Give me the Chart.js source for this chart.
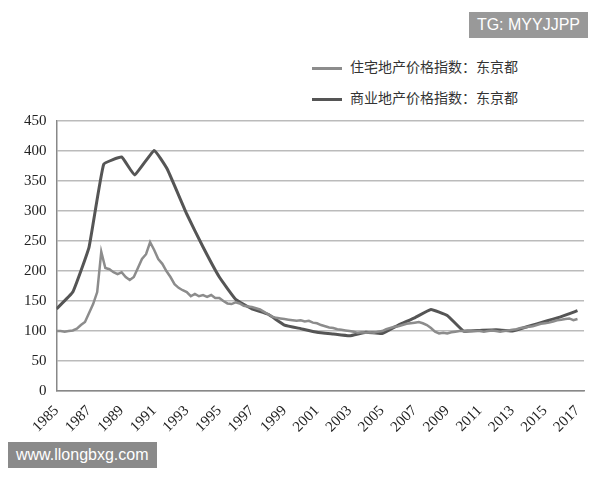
<!DOCTYPE html>
<html>
<head>
<meta charset="utf-8">
<script src="https://cdn.jsdelivr.net/npm/chart.js@4/dist/chart.umd.min.js"></script>
<style>
  body { margin: 0; background: #fff; }
  #wrap { position: relative; width: 600px; height: 480px; }
  #chartCanvas { position: absolute; left: 0; top: 102px; }
  .legend { position: absolute; left: 312px; font: 14px "Noto Sans CJK SC"; color: #333; }
  .legend span { display: inline-block; width: 30px; height: 3px; vertical-align: middle; margin-right: 8px; }
  .tag { position: absolute; background: #999; color: #fff; font: 16px "Liberation Sans"; padding: 4px 8px; }
</style>
</head>
<body>
<div id="wrap">
  <div class="tag" style="right:12px; top:12px;">TG: MYYJJPP</div>
  <div class="legend" style="top:56px;"><span style="background:#8c8c8c"></span>住宅地产价格指数：东京都</div>
  <div class="legend" style="top:87px;"><span style="background:#555"></span>商业地产价格指数：东京都</div>
  <canvas id="chartCanvas" width="600" height="337"></canvas>
  <div class="tag" style="left:8px; top:442px; background:#8a8a8a;">www.llongbxg.com</div>
</div>
<script>
const commercialYears = [1985, 1986, 1987, 1987.9, 1989, 1989.8, 1991, 1991.8, 1993, 1994, 1995, 1996, 1997, 1998, 1999, 2000, 2001, 2002, 2003, 2004, 2005, 2006, 2007, 2008, 2009, 2010, 2011, 2012, 2013, 2014, 2015, 2016, 2017];
const commercialValues = [137, 165, 240, 378, 390, 360, 401, 370, 295, 240, 190, 153, 137, 128, 110, 104, 98, 95, 92, 98, 96, 110, 122, 136, 126, 100, 101, 102, 100, 108, 116, 124, 134];

// quarterly, from 1985 Q1
const residentialStart = 1985;
const residentialValues = [
  100, 100, 99, 100,
  101, 104, 110, 115,
  130, 145, 165, 232,
  205, 203, 198, 195,
  198, 190, 185, 190,
  205, 220, 228, 248,
  235, 220, 212, 200,
  190, 178, 172, 168,
  165, 158, 162, 158,
  160, 157, 160, 155,
  155, 150, 146, 145,
  148, 146, 142, 141,
  140, 138, 136, 132,
  128, 124, 122, 121,
  120, 119, 118, 117,
  118, 116, 117, 114,
  113, 110, 108, 106,
  105, 103, 102, 101,
  100, 99, 97, 98,
  97, 98, 97, 99,
  100, 103, 105, 107,
  108, 110, 112, 113,
  114, 115, 113, 110,
  105, 99, 96, 97,
  96, 98, 99, 100,
  100, 101, 100, 100,
  100, 99, 100, 101,
  100, 99, 100, 101,
  102, 103, 105, 106,
  107, 108, 110, 112,
  113, 114, 116, 118,
  119, 120, 121, 118,
  120
];

const yTicks = [0, 50, 100, 150, 200, 250, 300, 350, 400, 450];

const residentialData = residentialValues.map((v, i) => ({ x: residentialStart + i / 4, y: v }));
const commercialData = commercialValues.map((v, i) => ({ x: commercialYears[i], y: v }));

const tickFont = { family: 'Liberation Serif', size: 15 };

new Chart(document.getElementById('chartCanvas').getContext('2d'), {
  type: 'line',
  data: {
    datasets: [
      { label: '住宅地产价格指数：东京都', data: residentialData, borderColor: '#8c8c8c', borderWidth: 2.5, pointRadius: 0, tension: 0 },
      { label: '商业地产价格指数：东京都', data: commercialData, borderColor: '#555', borderWidth: 3, pointRadius: 0, tension: 0.1 }
    ]
  },
  options: {
    responsive: false,
    animation: false,
    layout: { padding: { left: 14, right: 16, top: 8 } },
    plugins: { legend: { display: false }, tooltip: { enabled: false } },
    scales: {
      x: {
        type: 'linear', min: 1985, max: 2017.4,
        afterBuildTicks: axis => { axis.ticks = []; for (let y = 1985; y <= 2017; y += 2) axis.ticks.push({ value: y }); },
        ticks: { font: tickFont, color: '#222', maxRotation: 45, minRotation: 45, callback: v => v },
        grid: { display: false },
        border: { color: '#888', width: 1.5 }
      },
      y: {
        min: 0, max: 450,
        afterBuildTicks: axis => { axis.ticks = yTicks.map(v => ({ value: v })); },
        ticks: { font: tickFont, color: '#222', padding: 10 },
        grid: { color: '#bbb', lineWidth: 1.5, drawTicks: false },
        border: { color: '#888', width: 1.5 }
      }
    }
  }
});
</script>
</body>
</html>
